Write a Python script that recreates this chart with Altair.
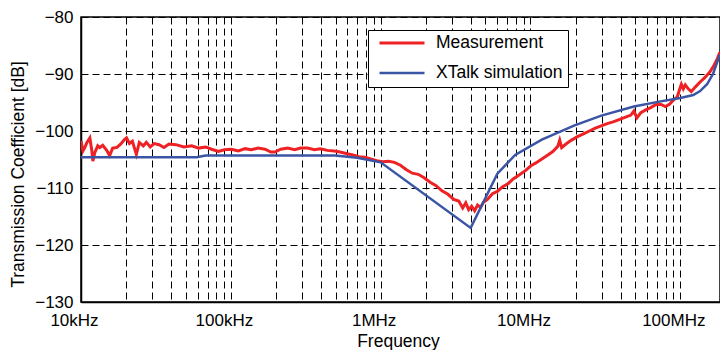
import altair as alt
import pandas as pd

# Measurement (frequency in Hz, transmission in dB)
meas_f = [10000, 10300, 10600, 10960, 11460, 11830, 12000, 12360, 12940, 13340,
          13970, 14850, 15540, 16260, 17290, 18370, 19500, 20120, 21050, 22030,
          23420, 24500, 26060, 27300, 28980, 30770, 33200, 35810, 38640, 43020,
          48550, 54830, 60970, 67900, 74340, 82630, 90570, 100700, 112100, 124800,
          136600, 152000, 169100, 185000, 196700, 215400, 239800, 266700, 291800, 325000,
          361300, 395400, 440500, 489700, 536000, 597000, 653500, 716000, 783600, 858400,
          941500, 1.03e6, 1.13e6, 1.236e6, 1.355e6, 1.486e6, 1.626e6, 1.782e6, 1.95e6, 2.138e6,
          2.344e6, 2.565e6, 2.812e6, 3.076e6, 3.319e6, 3.53e6, 3.698e6, 3.867e6, 4.048e6, 4.238e6,
          4.436e6, 4.645e6, 4.853e6, 5.164e6, 5.572e6, 6.012e6, 6.486e6, 7.112e6, 7.656e6, 8.395e6,
          9.2e6, 1.007e7, 1.087e7, 1.191e7, 1.306e7, 1.409e7, 1.521e7, 1.567e7, 1.615e7, 1.742e7,
          1.879e7, 2.06e7, 2.255e7, 2.472e7, 2.706e7, 2.966e7, 3.25e7, 3.557e7, 3.9e7, 4.266e7,
          4.677e7, 4.898e7, 5.129e7, 5.445e7, 5.875e7, 6.339e7, 6.839e7, 7.379e7, 7.962e7, 8.455e7,
          8.99e7, 9.55e7, 9.84e7, 1.016e8, 1.047e8, 1.079e8, 1.13e8, 1.183e8, 1.257e8, 1.355e8,
          1.462e8, 1.578e8, 1.676e8, 1.754e8, 1.836e8]
meas_db = [-101.7, -103.5, -102.9, -102.0, -101.2, -103.6, -105.3, -103.8, -102.6, -102.9,
           -102.5, -103.4, -104.3, -103.0, -102.9, -102.3, -101.5, -101.2, -102.2, -101.8,
           -104.1, -102.0, -102.6, -102.0, -102.8, -102.2, -102.4, -102.9, -102.3, -102.4,
           -102.8, -102.6, -103.0, -102.8, -103.2, -103.6, -103.3, -103.2, -103.5, -103.1,
           -103.3, -103.0, -103.2, -103.7, -103.7, -103.2, -103.0, -103.3, -103.0, -103.0,
           -103.3, -103.1, -103.4, -103.5, -103.7, -104.0, -104.2, -104.5, -104.6, -104.9,
           -105.2, -105.4, -105.3, -105.5, -106.0, -106.8, -107.4, -107.6, -108.2, -109.0,
           -109.6, -110.5, -111.1, -112.0, -112.3, -113.5, -112.6, -113.8, -113.2, -114.0,
           -113.0, -113.4, -112.5, -112.0, -111.0, -110.6, -109.8, -109.2, -108.4, -107.7,
           -107.0, -106.1, -105.6, -104.9, -104.2, -103.6, -102.7, -101.6, -102.9, -102.2,
           -101.6, -101.0, -100.5, -100.0, -99.5, -99.1, -98.7, -98.4, -98.0, -97.6,
           -97.2, -96.5, -97.7, -96.8, -96.3, -95.9, -95.4, -95.3, -95.7, -95.3,
           -94.6, -94.0, -92.9, -91.8, -92.6, -91.9, -92.6, -93.1, -92.3, -91.4,
           -90.6, -89.6, -88.5, -87.5, -86.2]

# XTalk simulation
sim_f = [10000, 59160, 67900, 496600, 695000, 1e6, 3.99e6, 6.01e6, 7.9e6, 1.19e7,
         1.97e7, 2.97e7, 4.9e7, 7.38e7, 1e8, 1.22e8, 1.355e8, 1.508e8, 1.652e8, 1.836e8]
sim_db = [-104.6, -104.6, -104.3, -104.3, -104.7, -105.5, -117.0, -107.5, -104.2, -101.5,
          -99.0, -97.3, -95.7, -94.8, -94.2, -93.7, -93.0, -91.8, -90.0, -86.6]

series_names = ["Measurement", "XTalk simulation"]
series_colors = ["#ee2124", "#3b55a5"]
series_widths = [3, 2.5]

decades = [1e4, 1e5, 1e6, 1e7, 1e8]
decade_labels = ["10kHz", "100kHz", "1MHz", "10MHz", "100MHz"]
multipliers = [1, 2, 3, 4, 5, 6, 7, 8, 9]
x_max = 1.84e8
y_ticks = [-130, -120, -110, -100, -90, -80]

x_values = [d * m for d in decades for m in multipliers if d * m <= x_max]
label_expr = " : ".join(
    f"datum.value == {int(d)} ? '{l}'" for d, l in zip(decades, decade_labels)
) + " : ''"

df = pd.concat([
    pd.DataFrame({"f": meas_f, "db": meas_db, "series": series_names[0]}),
    pd.DataFrame({"f": sim_f, "db": sim_db, "series": series_names[1]}),
])

FONT = "Liberation Sans"

chart = alt.Chart(df).mark_line(clip=True).encode(
    x=alt.X("f:Q",
            scale=alt.Scale(type="log", domain=[1e4, x_max], nice=False),
            axis=alt.Axis(values=x_values, labelExpr=label_expr, title="Frequency",
                          ticks=False, labelOverlap=False, labelFlush=False,
                          labelPadding=10, labelOffset=-7,
                          titleX=317, titleY=44, titleBaseline="alphabetic")),
    y=alt.Y("db:Q",
            scale=alt.Scale(domain=[-130, -80], nice=False),
            axis=alt.Axis(values=y_ticks, title="Transmission Coefficient [dB]",
                          ticks=False, labelPadding=8,
                          titleX=-58, titleY=157, titleBaseline="alphabetic",
                          titleAngle=270)),
    color=alt.Color("series:N",
                    scale=alt.Scale(domain=series_names, range=series_colors),
                    legend=alt.Legend(title=None, orient="none", legendX=287, legendY=13,
                                      symbolType="stroke", symbolSize=2025,
                                      symbolStrokeWidth=3, symbolOffset=5,
                                      labelOffset=10, clipHeight=16,
                                      padding=5, rowPadding=12,
                                      strokeColor="black", fillColor="white",
                                      labelFontSize=17.5, labelFont=FONT,
                                      labelColor="black")),
    strokeWidth=alt.StrokeWidth("series:N",
                                scale=alt.Scale(domain=series_names, range=series_widths),
                                legend=None),
).properties(
    width=639, height=285,
    autosize=alt.AutoSizeParams(type="none"),
    padding={"left": 73, "top": 9, "right": 0, "bottom": 48},
).configure_axis(
    labelFont=FONT, labelFontSize=17, labelColor="black",
    titleFont=FONT, titleFontSize=17.5, titleColor="black", titleFontWeight="normal",
    domainColor="black", domainWidth=1.5,
    grid=True, gridColor="black", gridDash=[7, 4], gridWidth=1, gridOpacity=1,
).configure_view(
    stroke="black", strokeWidth=1.5
)

chart.save("out.html", embed_options={"renderer": "svg", "actions": False})
